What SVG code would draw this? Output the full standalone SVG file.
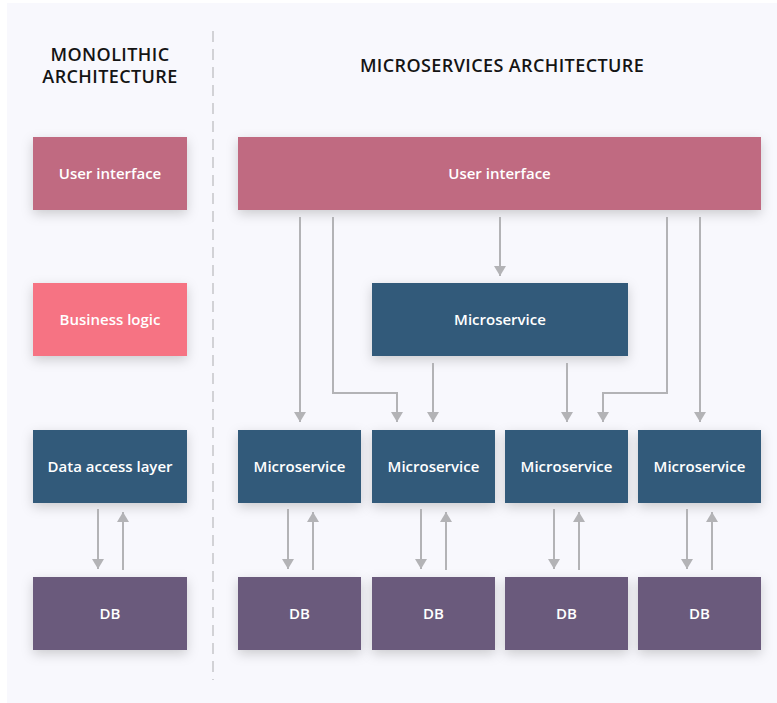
<svg xmlns="http://www.w3.org/2000/svg" width="777" height="703" viewBox="0 0 777 703">
  <defs>
    <filter id="shadow" x="-20%" y="-30%" width="140%" height="170%">
      <feDropShadow dx="0" dy="4" stdDeviation="6" flood-color="#000" flood-opacity="0.18"/>
    </filter>
    <marker id="head" viewBox="0 0 10 12" refX="10" refY="6" markerWidth="10" markerHeight="12" markerUnits="userSpaceOnUse" orient="auto">
      <path d="M0,0 L10,6 L0,12 Z" fill="#b3b3b6"/>
    </marker>
    <style>
      .title { font-family: "Open Sans", "Liberation Sans", sans-serif; font-weight: 600; font-size: 18px; letter-spacing: 0.4px; fill: #141414; text-anchor: middle; }
      .label { font-family: "Open Sans", "Liberation Sans", sans-serif; font-weight: 600; font-size: 15px; fill: #ffffff; text-anchor: middle; dominant-baseline: central; }
      .ui { fill: #c06a81; filter: url(#shadow); }
      .biz { fill: #f67383; filter: url(#shadow); }
      .ms { fill: #335a7a; filter: url(#shadow); }
      .db { fill: #6b5a7b; filter: url(#shadow); }
      .conn { fill: none; stroke: #b3b3b6; stroke-width: 2; }
      .arrow { marker-end: url(#head); }
    </style>
  </defs>

  <!-- page -->
  <rect x="0" y="0" width="777" height="703" fill="#ffffff"/>
  <rect x="7" y="3" width="770" height="700" fill="#f8f8fd"/>

  <!-- headings and divider -->
  <g id="headings">
    <text class="title" x="110" y="61">MONOLITHIC</text>
    <text class="title" x="110" y="83">ARCHITECTURE</text>
    <text class="title" x="502" y="72">MICROSERVICES ARCHITECTURE</text>
    <line x1="213" y1="31" x2="213" y2="680" stroke="#d2d2d6" stroke-width="2" stroke-dasharray="11 7"/>
  </g>

  <!-- monolithic stack -->
  <g id="mono-ui"><rect class="ui" x="33" y="137" width="154" height="73"/><text class="label" x="110" y="172.5">User interface</text></g>
  <g id="mono-business"><rect class="biz" x="33" y="283" width="154" height="73"/><text class="label" x="110" y="319">Business logic</text></g>
  <g id="mono-dal"><rect class="ms" x="33" y="430" width="154" height="73"/><text class="label" x="110" y="465.5">Data access layer</text></g>
  <g id="mono-db"><rect class="db" x="33" y="577" width="154" height="73"/><text class="label" x="110" y="612.5">DB</text></g>

  <!-- microservices -->
  <g id="ms-ui"><rect class="ui" x="238" y="137" width="523" height="73"/><text class="label" x="499.5" y="172.5">User interface</text></g>
  <g id="ms-core"><rect class="ms" x="372" y="283" width="256" height="73"/><text class="label" x="500" y="319">Microservice</text></g>
  <g id="ms-1"><rect class="ms" x="238" y="430" width="123" height="73"/><text class="label" x="299.5" y="465.5">Microservice</text></g>
  <g id="ms-2"><rect class="ms" x="372" y="430" width="123" height="73"/><text class="label" x="433.5" y="465.5">Microservice</text></g>
  <g id="ms-3"><rect class="ms" x="505" y="430" width="123" height="73"/><text class="label" x="566.5" y="465.5">Microservice</text></g>
  <g id="ms-4"><rect class="ms" x="638" y="430" width="123" height="73"/><text class="label" x="699.5" y="465.5">Microservice</text></g>
  <g id="db-1"><rect class="db" x="238" y="577" width="123" height="73"/><text class="label" x="299.5" y="612.5">DB</text></g>
  <g id="db-2"><rect class="db" x="372" y="577" width="123" height="73"/><text class="label" x="433.5" y="612.5">DB</text></g>
  <g id="db-3"><rect class="db" x="505" y="577" width="123" height="73"/><text class="label" x="566.5" y="612.5">DB</text></g>
  <g id="db-4"><rect class="db" x="638" y="577" width="123" height="73"/><text class="label" x="699.5" y="612.5">DB</text></g>

  <!-- connectors -->
  <g id="connectors">
    <!-- user interface to services -->
    <path class="conn arrow" d="M300,217 V422"/>
    <path class="conn arrow" d="M333,217 V393 H397 V422"/>
    <path class="conn arrow" d="M500,217 V276"/>
    <path class="conn arrow" d="M667,217 V393 H603 V422"/>
    <path class="conn arrow" d="M700,217 V422"/>
    <!-- central service to services -->
    <path class="conn arrow" d="M433,363 V422"/>
    <path class="conn arrow" d="M567,363 V422"/>
    <!-- data access to databases -->
    <path class="conn arrow" d="M98,509 V569"/>
    <path class="conn arrow" d="M123,570 V512"/>
    <path class="conn arrow" d="M288,509 V569"/>
    <path class="conn arrow" d="M313,570 V512"/>
    <path class="conn arrow" d="M421,509 V569"/>
    <path class="conn arrow" d="M446,570 V512"/>
    <path class="conn arrow" d="M554,509 V569"/>
    <path class="conn arrow" d="M579,570 V512"/>
    <path class="conn arrow" d="M687,509 V569"/>
    <path class="conn arrow" d="M712,570 V512"/>
  </g>
</svg>
